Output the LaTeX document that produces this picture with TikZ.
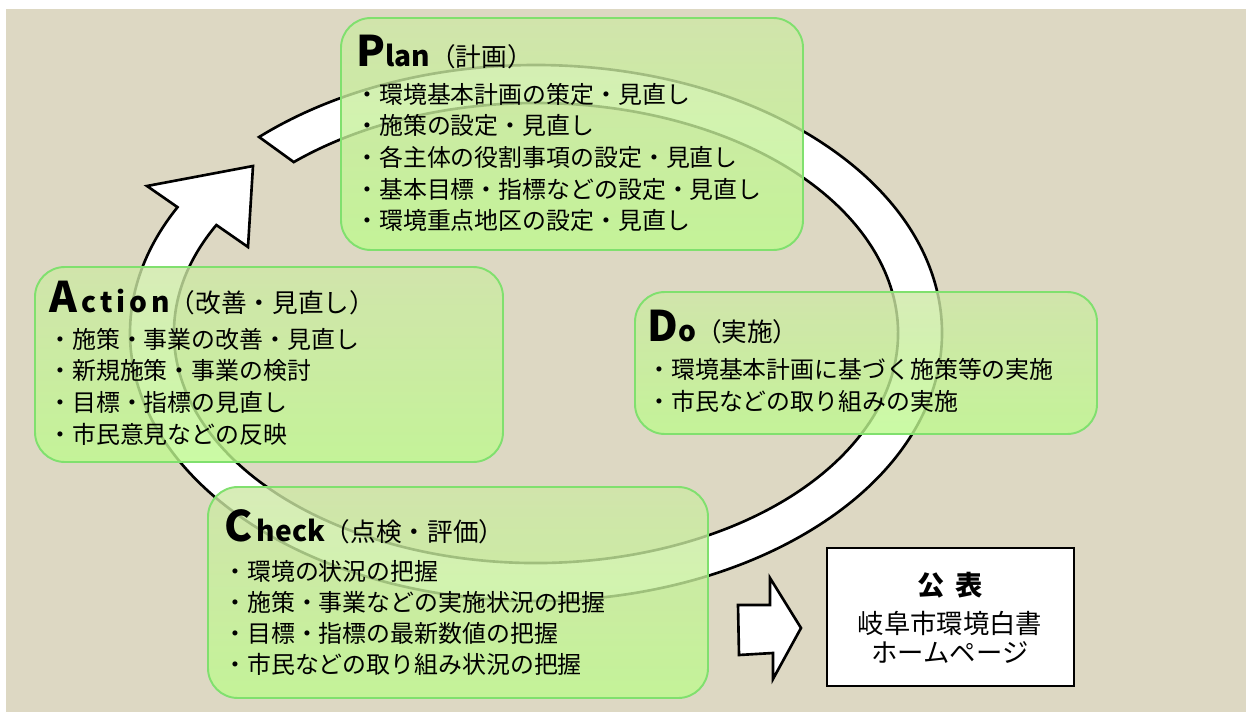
\documentclass[tikz,border=0pt]{standalone}
\usepackage{fontspec}
\setmainfont{Noto Sans CJK JP}
\usepackage{tikz}
\usetikzlibrary{calc,fit,positioning}

\definecolor{paper}{RGB}{221,216,195}
\definecolor{boxfill}{RGB}{190,250,142}
\definecolor{boxtop}{RGB}{206,232,166}
\definecolor{boxline}{RGB}{128,224,110}

\newcommand\Bigch[1]{{\fontsize{24}{24}\selectfont\bfseries #1}}
\newcommand\Restch[1]{{\fontsize{16}{18}\selectfont\bfseries #1}}

\tikzset{
  phase/.style={
    draw=boxline,
    line width=1.1pt,
    rounded corners=17pt,
    top color=boxtop, bottom color=boxfill,
    shading angle=0,
    fill opacity=0.8,
    inner sep=0pt,
  },
  head/.style={anchor=base west, inner sep=0pt, font=\fontsize{14.6}{18}\selectfont},
  item/.style={anchor=base west, inner sep=0pt, font=\fontsize{13.6}{18}\selectfont},
  ring/.style={draw=black, fill=white, line width=1.5pt, line join=miter},
  kohotext/.style={inner sep=0pt, font=\fontsize{15}{18}\selectfont},
}

\begin{document}
\begin{tikzpicture}[x=0.02cm, y=-0.02cm]

        % Background
        \useasboundingbox (0,0) rectangle (1246,713);
        \fill[paper] (6,9) rectangle (1246,712);

        % Cycle arrow
        \coordinate (ctr) at (536,333);
        \coordinate (headout) at (147,186);
        \coordinate (headtip) at (253,166);
        \coordinate (headin) at (248,247);
        \draw[ring] ($(ctr)+(-133:406 and 268)$)
          arc[start angle=-133, end angle=208, x radius=406, y radius=268]
          -- (headout) -- (headtip) -- (headin)
          -- ($(ctr)+(208:362 and 230)$)
          arc[start angle=208, end angle=-132, x radius=362, y radius=230]
          -- cycle;

        % Phase boxes
        \node[phase, fit={(341,18) (803,250)}] (plan) {};
        \node[phase, fit={(35,267) (503,462)}] (action) {};
        \node[phase, fit={(635,292) (1097,434)}] (do) {};
        \node[phase, fit={(208,487) (708,698)}] (check) {};

        % Plan
        \node[head] (planhead) at ([shift={(16,49)}]plan.north west)
        {\Bigch{P}\Restch{lan}（計画）};
        \foreach \txt [count=\i from 0] in {環境基本計画の策定・見直し,
            施策の設定・見直し, 各主体の役割事項の設定・見直し,
            基本目標・指標などの設定・見直し, 環境重点地区の設定・見直し}
          \node[item] (plan\i) at ([shift={(15,86+31.7*\i)}]plan.north west) {・\txt};

        % Action
        \node[head] (actionhead) at ([shift={(15,46)}]action.north west)
        {\Bigch{A}\,\Restch{\addfontfeature{LetterSpace=14}ction}（改善・見直し）};
        \foreach \txt [count=\i from 0] in {施策・事業の改善・見直し,
            新規施策・事業の検討, 目標・指標の見直し, 市民意見などの反映}
          \node[item] (action\i) at ([shift={(14,82+31.7*\i)}]action.north west) {・\txt};

        % Do
        \node[head] (dohead) at ([shift={(13,50)}]do.north west)
        {\Bigch{D}\Restch{o}（実施）};
        \foreach \txt [count=\i from 0] in {環境基本計画に基づく施策等の実施,
            市民などの取り組みの実施}
          \node[item] (do\i) at ([shift={(13,87+32*\i)}]do.north west) {・\txt};

        % Check
        \node[head] (checkhead) at ([shift={(17,55)}]check.north west)
        {\Bigch{C}\,\Restch{heck}（点検・評価）};
        \foreach \txt [count=\i from 0] in {環境の状況の把握,
            施策・事業などの実施状況の把握, 目標・指標の最新数値の把握,
            市民などの取り組み状況の把握}
          \node[item] (check\i) at ([shift={(16,94+31*\i)}]check.north west) {・\txt};

        % Publication box
        \node[fit={(827,548) (1074,686)}, draw, fill=white, line width=1.4pt, inner sep=0pt] (koho) {};
        \node[kohotext, font=\fontsize{15.5}{18}\selectfont\bfseries] (kohohead) at (950,585) {公\hspace{6pt}表};
        \node[kohotext, below=7pt of kohohead] (kohobook) {岐阜市環境白書};
        \node[kohotext, below=3pt of kohobook] (kohoweb) {ホームページ};

        % Block arrow to publication
        \draw[ring] (738,605) -- (770,605) -- (770,578) -- (801,628)
          -- (773,679) -- (773,653) -- (739,655) -- cycle;

\end{tikzpicture}
\end{document}
